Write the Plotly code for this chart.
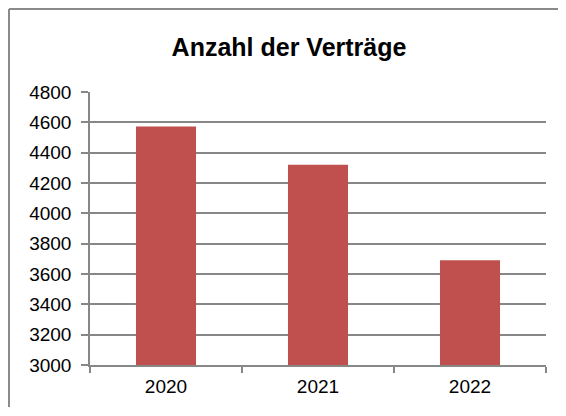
import plotly.graph_objects as go

categories = ["2020", "2021", "2022"]
values = [4573, 4320, 3690]
y_ticks = [3000, 3200, 3400, 3600, 3800, 4000, 4200, 4400, 4600, 4800]
title_text = "Anzahl der Verträge"

# page body has an 8px margin, so the figure is sized to fit the window without scrollbars
W, H = 558, 400
L, R, T, B = 82, 20, 84, 43
pw = W - L - R
ph = H - T - B

def px_to_paper_x(px):
    return (px - L) / pw

def px_to_paper_y(py):
    return (H - B - py) / ph

fig = go.Figure(go.Bar(
    x=categories, y=values,
    marker=dict(color="#C0504D", line=dict(width=0)),
    width=0.395,
))

grid_col = "#878787"
fig.update_layout(
    width=W, height=H,
    margin=dict(l=L, r=R, t=T, b=B, pad=0),
    paper_bgcolor="white", plot_bgcolor="white",
    showlegend=False,
    font=dict(family="Liberation Sans, Arial, sans-serif", color="black"),
    title=dict(
        text="<b>" + title_text + "</b>",
        font=dict(size=25, color="black", family="Liberation Sans, Arial, sans-serif"),
        x=281 / W, xref="container", xanchor="center",
        y=1 - 39 / H, yref="container", yanchor="middle",
    ),
    xaxis=dict(
        type="category",
        showline=True, linecolor=grid_col, linewidth=1.5,
        ticks="outside", tickson="boundaries", ticklen=6, tickwidth=1.5, tickcolor=grid_col,
        tickfont=dict(size=19, color="black"),
        ticklabelstandoff=3,
        showgrid=False, zeroline=False,
    ),
    yaxis=dict(
        range=[3000, 4800],
        tickvals=y_ticks,
        ticktext=[str(v) for v in y_ticks],
        showline=True, linecolor=grid_col, linewidth=1.5,
        ticks="outside", ticklen=7, tickwidth=1.5, tickcolor=grid_col,
        tickfont=dict(size=19, color="black"),
        ticklabelstandoff=6,
        showgrid=True, gridcolor=grid_col, gridwidth=1.5,
        zeroline=False,
    ),
    shapes=[
        dict(type="line", xref="paper", yref="paper",
             x0=px_to_paper_x(1), x1=px_to_paper_x(1),
             y0=px_to_paper_y(H - 1), y1=px_to_paper_y(1),
             line=dict(color="#8a8a8a", width=2)),
        dict(type="line", xref="paper", yref="paper",
             x0=px_to_paper_x(1), x1=px_to_paper_x(W - 1),
             y0=px_to_paper_y(1), y1=px_to_paper_y(1),
             line=dict(color="#8a8a8a", width=2)),
    ],
)

fig.write_html("out.html")
